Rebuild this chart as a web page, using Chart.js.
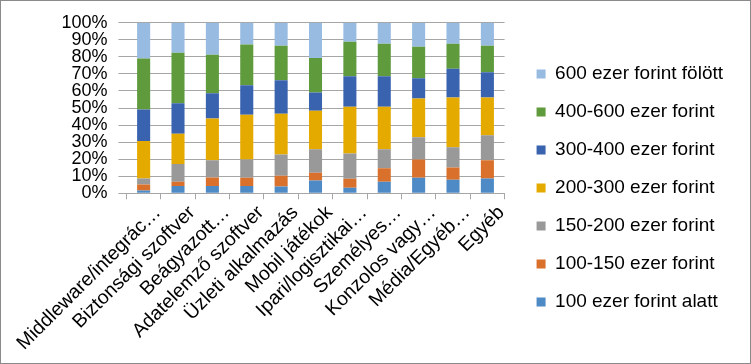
<!DOCTYPE html>
<html>
<head>
<meta charset="utf-8">
<script src="https://cdn.jsdelivr.net/npm/chart.js@4/dist/chart.umd.min.js"></script>
<style>
  body { margin: 0; background: #fff; }
  #wrap { width: 749px; height: 362px; border: 1px solid #8a8a8a; }
</style>
</head>
<body>
<div id="wrap"><canvas id="chartCanvas" width="749" height="362"></canvas></div>
<script>
// categories (as shown, Excel truncated the long ones)
const categories = [
  'Middleware/integrác…', 'Biztonsági szoftver', 'Beágyazott…', 'Adatelemző szoftver',
  'Üzleti alkalmazás', 'Mobil játékok', 'Ipari/logisztikai…', 'Személyes…',
  'Konzolos vagy…', 'Média/Egyéb…', 'Egyéb'
];

// share of respondents per salary band (%), bottom to top
const under100  = [1.6, 4.2, 4.2, 4.2, 4.0, 7.5, 3.2, 6.7, 9.1, 7.9, 8.7];
const s100_150  = [3.6, 2.5, 5.1, 4.9, 6.3, 4.6, 5.3, 8.0, 10.7, 7.2, 10.7];
const s150_200  = [3.5, 10.4, 10.1, 10.7, 12.5, 13.7, 14.9, 11.1, 13.1, 11.9, 14.7];
const s200_300  = [21.9, 17.8, 24.4, 26.2, 23.8, 22.6, 27.4, 25.0, 22.7, 29.2, 22.1];
const s300_400  = [18.6, 17.9, 14.9, 17.3, 19.7, 10.7, 17.9, 17.9, 11.9, 16.8, 14.8];
const s400_600  = [29.8, 29.7, 22.6, 24.0, 20.2, 20.3, 20.2, 19.0, 18.4, 14.7, 15.5];
const over600   = [21.0, 17.5, 18.7, 12.7, 13.5, 20.6, 11.1, 12.3, 14.1, 12.3, 13.5];

const yTicks = [0, 10, 20, 30, 40, 50, 60, 70, 80, 90, 100];

const series = [
  { label: '100 ezer forint alatt', data: under100, color: '#4E8AC5' },
  { label: '100-150 ezer forint', data: s100_150, color: '#D9712C' },
  { label: '150-200 ezer forint', data: s150_200, color: '#999999' },
  { label: '200-300 ezer forint', data: s200_300, color: '#E5AA00' },
  { label: '300-400 ezer forint', data: s300_400, color: '#3A63AF' },
  { label: '400-600 ezer forint', data: s400_600, color: '#5F9A3D' },
  { label: '600 ezer forint fölött', data: over600, color: '#98BBE1' }
];

const family = '"Liberation Sans", Arial, sans-serif';
const canvas = document.getElementById('chartCanvas');

new Chart(canvas.getContext('2d'), {
  type: 'bar',
  data: {
    labels: categories,
    datasets: series.map(s => ({
      label: s.label,
      data: s.data,
      backgroundColor: s.color,
      borderWidth: 0,
      categoryPercentage: 1,
      barPercentage: 0.38
    }))
  },
  options: {
    responsive: false,
    animation: false,
    layout: { padding: { left: 0, right: 17, top: 18, bottom: 6 } },
    plugins: {
      tooltip: { enabled: false },
      legend: {
        position: 'right',
        reverse: true,
        maxWidth: 320,
        labels: {
          font: { family: family, size: 19 },
          color: '#000',
          boxWidth: 9,
          boxHeight: 9,
          padding: 19
        }
      }
    },
    scales: {
      x: {
        stacked: true,
        grid: { drawOnChartArea: false, drawTicks: true, tickLength: 6, color: '#a6a6a6', offset: true },
        border: { display: true, color: '#a6a6a6' },
        ticks: {
          font: { family: family, size: 19.5 }, color: '#000',
          minRotation: 45, maxRotation: 45, autoSkip: false, padding: 2, labelOffset: 14
        }
      },
      y: {
        stacked: true,
        min: 0,
        max: 100,
        afterBuildTicks: scale => { scale.ticks = yTicks.map(v => ({ value: v })); },
        grid: { color: '#a6a6a6', tickLength: 8 },
        border: { display: false },
        ticks: {
          font: { family: family, size: 18 }, color: '#000', padding: 11,
          autoSkip: false, callback: v => v + '%'
        }
      },
      // spacer between plot and legend
      gap: {
        position: 'right',
        display: true,
        grid: { display: false },
        border: { display: false },
        ticks: { display: false },
        afterFit: scale => { scale.width = 13; }
      }
    }
  }
});
</script>
</body>
</html>
